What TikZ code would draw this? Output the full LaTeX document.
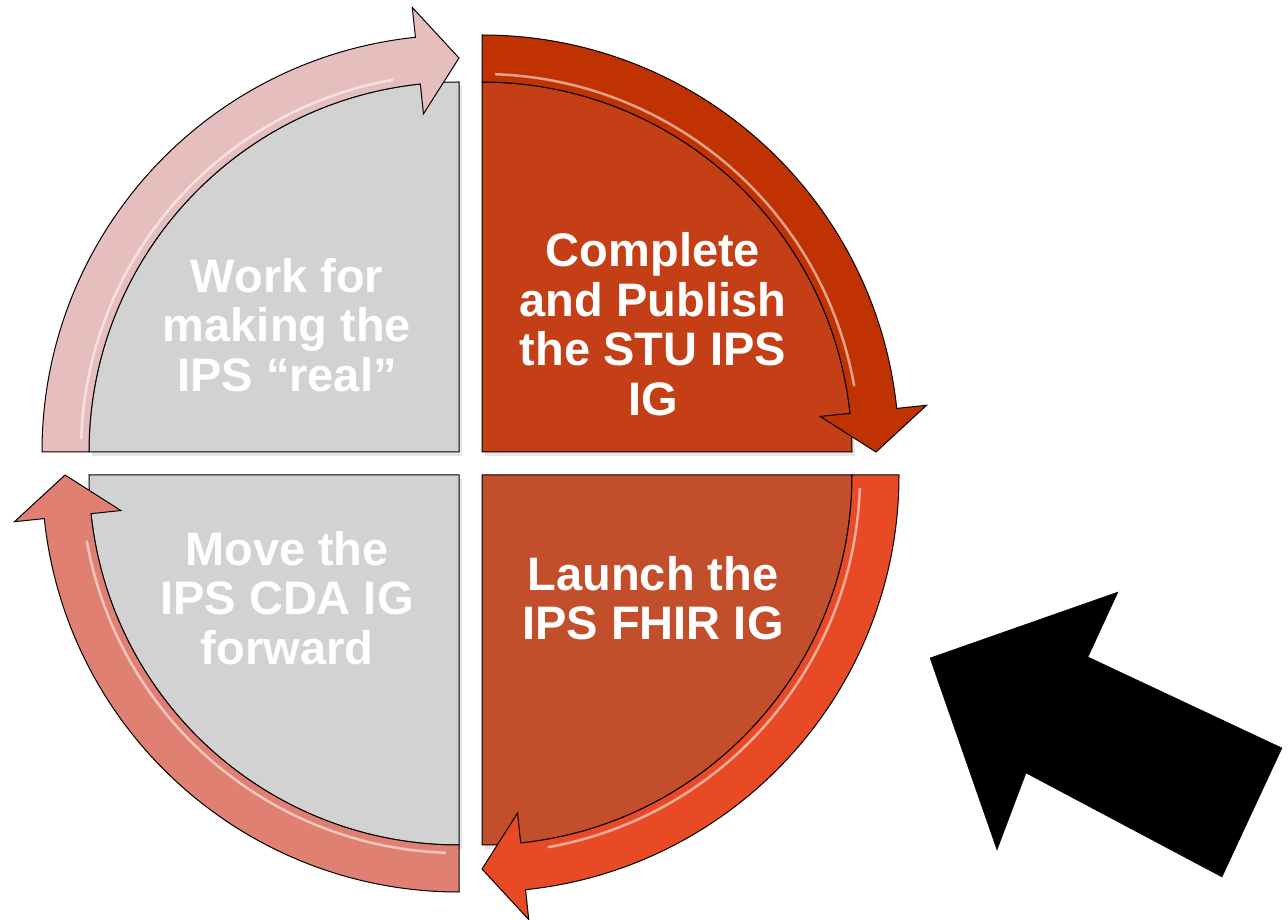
\documentclass[tikz,border=0pt]{standalone}
\usepackage{fontspec}
\setmainfont{Liberation Sans}
\usetikzlibrary{shadows}

\definecolor{greysec}{RGB}{210,210,210}
\definecolor{pinkarrow}{RGB}{231,190,190}
\definecolor{rustsec}{RGB}{196,62,22}
\definecolor{rustarrow}{RGB}{193,50,2}
\definecolor{bricksec}{RGB}{194,78,44}
\definecolor{flamearrow}{RGB}{232,74,38}
\definecolor{salmonarrow}{RGB}{224,128,114}

\tikzset{
  quadtext/.style={text=white, font=\bfseries\fontsize{47}{49.5}\selectfont, align=center, inner sep=0pt},
  quadrant/.style={draw=black, line width=1pt, drop shadow={opacity=0.2, shadow xshift=3pt, shadow yshift=-4pt}},
  band/.style={draw=black, line width=1pt, line join=miter},
  gleam/.style={white, opacity=0.55, line width=2.5pt},
}

\begin{document}
\begin{tikzpicture}[x=1pt,y=1pt]
\useasboundingbox (0,0) rectangle (1288,919);

% four quadrants, each with its clockwise arrow
\foreach \cx/\cy/\a/\secfill/\arrfill in {459/467/180/greysec/pinkarrow, 482/467/90/rustsec/rustarrow, 482/444/0/bricksec/flamearrow, 459/444/-90/greysec/salmonarrow} {
  \begin{scope}[shift={(\cx,\cy)}]
    \filldraw[quadrant, fill=\secfill] (0,0) -- (\a:370) arc[start angle=\a, end angle=\a-90, radius=370] -- cycle;
    \filldraw[band, fill=\arrfill] (\a:417) arc[start angle=\a, end angle=\a-84, radius=417]
      -- (\a-84:447) -- (\a-90:394) -- (\a-84:340) -- (\a-84:370)
      arc[start angle=\a-84, end angle=\a, radius=370] -- cycle;
    \draw[gleam] (\a-2:378) arc[start angle=\a-2, end angle=\a-80, radius=378];
  \end{scope}
}

\node[quadtext] (work) at (287,594) {Work for\\making the\\IPS “real”};
\node[quadtext] (publish) at (653,595) {Complete\\and Publish\\the STU IPS\\IG};
\node[quadtext] (cda) at (287,321) {Move the\\IPS CDA IG\\forward};
\node[quadtext] (launch) at (653,321) {Launch the\\IPS FHIR IG};

% big black pointer
\filldraw[black, line join=miter] (930,261) -- (1118,327) -- (1088,262) -- (1282,171)
  -- (1222,42) -- (1026,146) -- (997,69) -- cycle;
\end{tikzpicture}
\end{document}
